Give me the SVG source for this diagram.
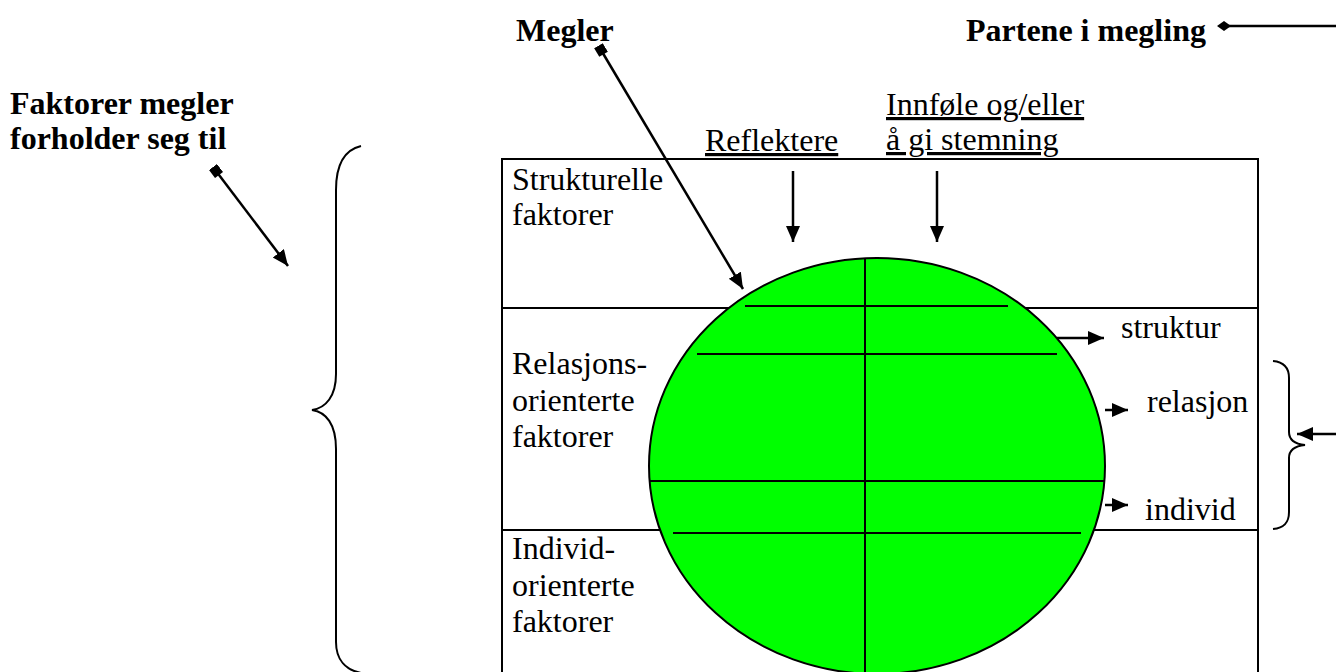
<svg xmlns="http://www.w3.org/2000/svg" width="1336" height="672" viewBox="0 0 1336 672">
<style>
.t{font-family:"Liberation Serif","Times New Roman",serif;font-size:32px;fill:#000}
.b{font-weight:bold}
.u{text-decoration:underline}
.ln{stroke:#000;stroke-width:2;fill:none}
.ar{stroke:#000;stroke-width:2.5;fill:none}
</style>
<defs>
<marker id="ah" markerUnits="userSpaceOnUse" markerWidth="20" markerHeight="16" refX="16" refY="7" orient="auto">
<path d="M0,0 L16,7 L0,14 Z" fill="#000"/>
</marker>
<marker id="sq" markerUnits="userSpaceOnUse" markerWidth="12" markerHeight="12" refX="5" refY="5" orient="auto">
<rect x="0" y="0" width="10" height="10" fill="#000"/>
</marker>
<marker id="dm" markerUnits="userSpaceOnUse" markerWidth="14" markerHeight="14" refX="7" refY="7" orient="auto">
<path d="M0,7 L7,2 L14,7 L7,12 Z" fill="#000"/>
</marker>
</defs>
<rect width="1336" height="672" fill="#fff"/>

<g id="main-box">
<rect x="502" y="159" width="756" height="540" class="ln"/>
<line x1="502" y1="308" x2="1258" y2="308" class="ln"/>
<line x1="502" y1="530" x2="1258" y2="530" class="ln"/>
<text class="t" x="512" y="190">Strukturelle</text>
<text class="t" x="512" y="225">faktorer</text>
<text class="t" x="512" y="374">Relasjons-</text>
<text class="t" x="512" y="411">orienterte</text>
<text class="t" x="512" y="447">faktorer</text>
<text class="t" x="512" y="559">Individ-</text>
<text class="t" x="512" y="596">orienterte</text>
<text class="t" x="512" y="632">faktorer</text>
</g>

<g id="circle">
<ellipse cx="877" cy="466" rx="228" ry="208" fill="#00ff00" stroke="#000" stroke-width="2"/>
<line x1="865" y1="258" x2="865" y2="674" class="ln"/>
<line x1="745" y1="306" x2="1008" y2="306" class="ln"/>
<line x1="697" y1="354" x2="1057" y2="354" class="ln"/>
<line x1="649" y1="481" x2="1104" y2="481" class="ln"/>
<line x1="673" y1="533" x2="1081" y2="533" class="ln"/>
</g>

<g id="labels">
<text class="t b" x="516" y="41">Megler</text>
<text class="t b" x="966" y="41">Partene i megling</text>
<text class="t b" x="10" y="114">Faktorer megler</text>
<text class="t b" x="10" y="149">forholder seg til</text>
<text class="t u" x="705" y="151">Reflektere</text>
<text class="t u" x="886" y="115">Innføle og/eller</text>
<text class="t u" x="886" y="150">å gi stemning</text>
<text class="t" x="1121" y="338">struktur</text>
<text class="t" x="1147" y="412">relasjon</text>
<text class="t" x="1145" y="520">individ</text>
</g>

<g id="braces">
<path class="ln" d="M361,146 C344,150 336,165 336,190 L336,374 C336,396 326,408 312,410 C326,412 336,424 336,449 L336,642 C336,660 346,670 361,673"/>
<path class="ln" d="M1273,361 C1284,362 1289,368 1289,378 L1289,432 C1289,440 1295,444 1305,445 C1295,446 1289,450 1289,458 L1289,512 C1289,523 1284,528 1273,529"/>
</g>

<g id="connectors">
<line x1="601" y1="50" x2="743" y2="289" class="ar" marker-start="url(#sq)" marker-end="url(#ah)"/>
<line x1="216" y1="171" x2="288" y2="266" class="ar" marker-start="url(#sq)" marker-end="url(#ah)"/>
<line x1="1336" y1="26" x2="1224" y2="26" class="ar" marker-end="url(#dm)"/>
<line x1="793" y1="171" x2="793" y2="242" class="ar" marker-end="url(#ah)"/>
<line x1="937" y1="171" x2="937" y2="242" class="ar" marker-end="url(#ah)"/>
<line x1="1057" y1="338" x2="1104" y2="338" class="ar" marker-end="url(#ah)"/>
<line x1="1105" y1="410" x2="1128" y2="410" class="ar" marker-end="url(#ah)"/>
<line x1="1105" y1="505" x2="1128" y2="505" class="ar" marker-end="url(#ah)"/>
<line x1="1336" y1="434" x2="1297" y2="434" class="ar" marker-end="url(#ah)"/>
</g>
</svg>
